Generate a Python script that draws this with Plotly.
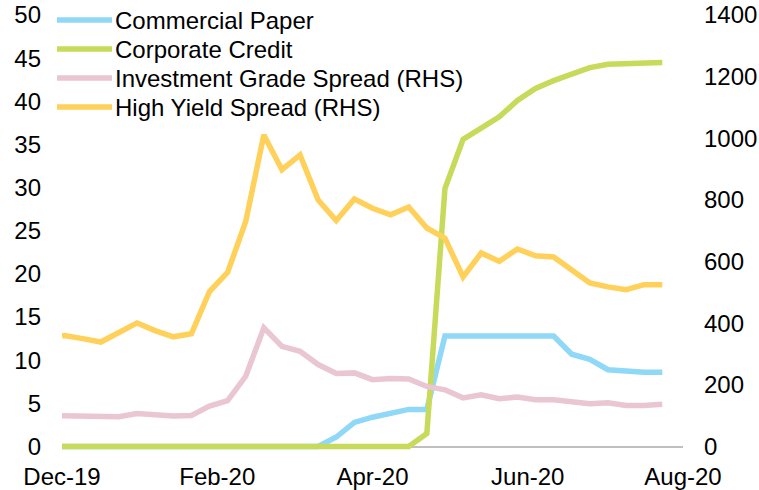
import plotly.graph_objects as go

dates = [
    "2019-12-31", "2020-01-01", "2020-01-08", "2020-01-15", "2020-01-22", "2020-01-29",
    "2020-02-05", "2020-02-12", "2020-02-19", "2020-02-26", "2020-03-04", "2020-03-11",
    "2020-03-18", "2020-03-25", "2020-04-01", "2020-04-08", "2020-04-15", "2020-04-22",
    "2020-04-29", "2020-05-06", "2020-05-13", "2020-05-20", "2020-05-27", "2020-06-03",
    "2020-06-10", "2020-06-17", "2020-06-24", "2020-07-01", "2020-07-08", "2020-07-15",
    "2020-07-22", "2020-07-29", "2020-08-05", "2020-08-12", "2020-08-19",
]

commercial_paper = [
    0, 0, 0, 0, 0, 0, 0, 0, 0, 0, 0, 0, 0, 0, 0, 0,
    1.1, 2.8, 3.4, 3.9, 4.3, 4.3, 12.8, 12.8, 12.8, 12.8, 12.8, 12.8, 12.8,
    10.7, 10.1, 8.9, 8.7, 8.6, 8.6,
]

corporate_credit = [
    0, 0, 0, 0, 0, 0, 0, 0, 0, 0, 0, 0, 0, 0, 0, 0, 0, 0, 0, 0, 0,
    1.5, 29.9, 35.6, 36.9, 38.2, 40.1, 41.5, 42.4, 43.1, 43.9, 44.3, 44.4, 44.4, 44.5,
]

ig_spread = [
    100, 100, 98, 96, 97, 107, 101, 99, 101, 131, 149, 228, 385, 325, 309, 266, 237, 239,
    217, 221, 219, 195, 184, 158, 168, 155, 161, 152, 152, 147, 139, 142, 133, 133, 137,
]

hy_spread = [
    358, 360, 350, 339, 370, 401, 376, 356, 366, 503, 565, 730, 1011, 898, 946, 800, 733, 803,
    773, 752, 777, 709, 676, 550, 628, 601, 641, 619, 615, 574, 531, 518, 509, 525, 525,
]

tick_dates = ["2019-12-31", "2020-02-29", "2020-04-29", "2020-06-28", "2020-08-27"]
tick_labels = ["Dec-19", "Feb-20", "Apr-20", "Jun-20", "Aug-20"]

names = ["Commercial Paper", "Corporate Credit", "Investment Grade Spread (RHS)", "High Yield Spread (RHS)"]
colors = ["#8FD8F7", "#C8DA5A", "#E9C6D1", "#FFD15A"]
axes = ["y", "y", "y2", "y2"]
series = [commercial_paper, corporate_credit, ig_spread, hy_spread]

font_family = "Liberation Sans, Arial, sans-serif"
FS = 24
LW = 5.5

fig = go.Figure()
for nm, col, ax, vals in zip(names, colors, axes, series):
    fig.add_trace(go.Scatter(x=dates, y=vals, name=nm, mode="lines",
                             line=dict(color=col, width=LW), yaxis=ax, showlegend=False))

# Legend drawn as line samples + labels (paper coordinates)
W, H = 759, 490
ml, mr, mt, mb = 62, 76, 15, 39.5
pw, ph = W - ml - mr, H - mt - mb


def px_x(px):
    return (px - ml) / pw


def px_y(py):
    return (H - mb - py) / ph


legend_rows = [20, 49, 78, 107]
shapes = []
annotations = []
for nm, col, ry in zip(names, colors, legend_rows):
    shapes.append(dict(type="line", xref="paper", yref="paper",
                       x0=px_x(57), x1=px_x(112), y0=px_y(ry), y1=px_y(ry),
                       line=dict(color=col, width=LW), layer="above"))
    annotations.append(dict(text=nm, xref="paper", yref="paper", x=px_x(113), y=px_y(ry + 1),
                            xanchor="left", yanchor="middle", showarrow=False,
                            font=dict(family=font_family, size=FS, color="black")))

fig.update_layout(
    width=W, height=H,
    margin=dict(l=ml, r=mr, t=mt, b=mb, autoexpand=False),
    paper_bgcolor="white", plot_bgcolor="white",
    font=dict(family=font_family, size=FS, color="black"),
    showlegend=False,
    shapes=shapes,
    annotations=annotations,
    xaxis=dict(type="date", range=["2019-12-31", "2020-08-27"],
               tickmode="array", tickvals=tick_dates, ticktext=tick_labels,
               showgrid=False, showline=False, zeroline=False, ticks="",
               ticklabelstandoff=10, automargin=False),
    yaxis=dict(range=[-0.4, 50], tick0=0, dtick=5, showgrid=False, showline=False,
               zeroline=True, zerolinecolor="#BFBFBF", zerolinewidth=2, ticks="",
               ticklabelstandoff=20, automargin=False),
    yaxis2=dict(range=[-11.2, 1400], tick0=0, dtick=200, overlaying="y", side="right",
                showgrid=False, showline=False, zeroline=False, ticks="",
                ticklabelstandoff=20, automargin=False),
)

fig.write_html("out.html",
               config={"displayModeBar": False},
               post_script="document.body.style.margin='0';document.body.style.padding='0';")
